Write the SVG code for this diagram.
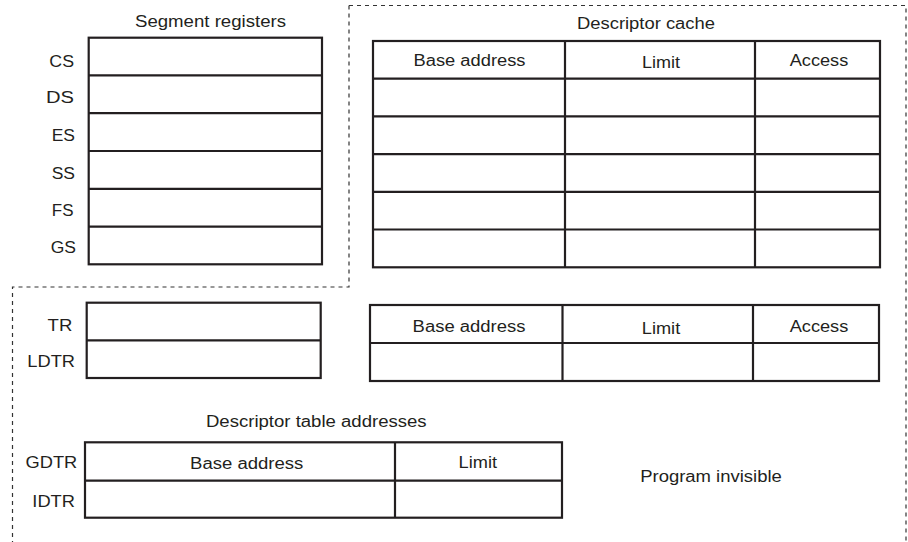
<svg xmlns="http://www.w3.org/2000/svg" width="908" height="542" viewBox="0 0 908 542">
<style>
text{font-family:"Liberation Sans",Arial,sans-serif;font-size:16px;fill:#231f20}
.c{text-anchor:middle}
.e{text-anchor:end}
.box{fill:#fff;stroke:#231f20;stroke-width:2.2}
.ln{stroke:#231f20;stroke-width:2.2;fill:none}
.dash{fill:none;stroke:#333;stroke-width:1.2;stroke-dasharray:4 4}
</style>
<rect width="908" height="542" fill="#fff"/>
<g id="boundary">
<path class="dash" d="M349 5.5H906V542M349 5.5V287H12.5V542"/>
</g>
<g id="segment-registers">
<text class="c" x="210.5" y="27" textLength="151" lengthAdjust="spacingAndGlyphs">Segment registers</text>
<rect class="box" x="88.7" y="37.7" width="233.3" height="226.6"/>
<path class="ln" d="M88.7 75.4H322M88.7 113.2H322M88.7 151H322M88.7 188.8H322M88.7 226.6H322"/>
<text class="e" x="74" y="66.7" textLength="24.7" lengthAdjust="spacingAndGlyphs">CS</text>
<text class="e" x="74" y="102.7" textLength="28" lengthAdjust="spacingAndGlyphs">DS</text>
<text class="e" x="75" y="140.7" textLength="23.3" lengthAdjust="spacingAndGlyphs">ES</text>
<text class="e" x="75" y="179" textLength="23.3" lengthAdjust="spacingAndGlyphs">SS</text>
<text class="e" x="73.5" y="216" textLength="21.7" lengthAdjust="spacingAndGlyphs">FS</text>
<text class="e" x="76" y="253.3" textLength="25.3" lengthAdjust="spacingAndGlyphs">GS</text>
</g>
<g id="descriptor-cache">
<text class="c" x="646" y="29.3" textLength="138" lengthAdjust="spacingAndGlyphs">Descriptor cache</text>
<rect class="box" x="373" y="41" width="507" height="226.3"/>
<path class="ln" d="M373 78.7H880M373 116.4H880M373 154.1H880M373 191.8H880M373 229.5H880M565 41V267.3M755 41V267.3"/>
<text class="c" x="469.5" y="66" textLength="112" lengthAdjust="spacingAndGlyphs">Base address</text>
<text class="c" x="661" y="68.3" textLength="38" lengthAdjust="spacingAndGlyphs">Limit</text>
<text class="c" x="819" y="66" textLength="58.6" lengthAdjust="spacingAndGlyphs">Access</text>
</g>
<g id="tr-ldtr">
<rect class="box" x="86.7" y="302.7" width="234" height="75.3"/>
<path class="ln" d="M86.7 340.3H320.7"/>
<text class="e" x="72.3" y="331" textLength="24.7" lengthAdjust="spacingAndGlyphs">TR</text>
<text class="e" x="75" y="366.7" textLength="47.7" lengthAdjust="spacingAndGlyphs">LDTR</text>
</g>
<g id="ldtr-cache">
<rect class="box" x="370" y="305" width="509" height="76"/>
<path class="ln" d="M370 343H879M562.5 305V381M753 305V381"/>
<text class="c" x="469" y="331.7" textLength="112.8" lengthAdjust="spacingAndGlyphs">Base address</text>
<text class="c" x="661" y="334" textLength="38.4" lengthAdjust="spacingAndGlyphs">Limit</text>
<text class="c" x="819" y="331.7" textLength="58.7" lengthAdjust="spacingAndGlyphs">Access</text>
</g>
<g id="descriptor-table-addresses">
<text class="c" x="316.3" y="426.5" textLength="220.7" lengthAdjust="spacingAndGlyphs">Descriptor table addresses</text>
<rect class="box" x="85" y="442.3" width="477" height="75.4"/>
<path class="ln" d="M85 480.7H562M395 442.3V517.7"/>
<text class="e" x="77.3" y="467.7" textLength="51.7" lengthAdjust="spacingAndGlyphs">GDTR</text>
<text class="e" x="75" y="507.3" textLength="42.7" lengthAdjust="spacingAndGlyphs">IDTR</text>
<text class="c" x="246.7" y="469" textLength="113.3" lengthAdjust="spacingAndGlyphs">Base address</text>
<text class="c" x="477.8" y="468.3" textLength="38.4" lengthAdjust="spacingAndGlyphs">Limit</text>
</g>
<g id="program-invisible">
<text class="c" x="711" y="482" textLength="141.6" lengthAdjust="spacingAndGlyphs">Program invisible</text>
</g>
</svg>
